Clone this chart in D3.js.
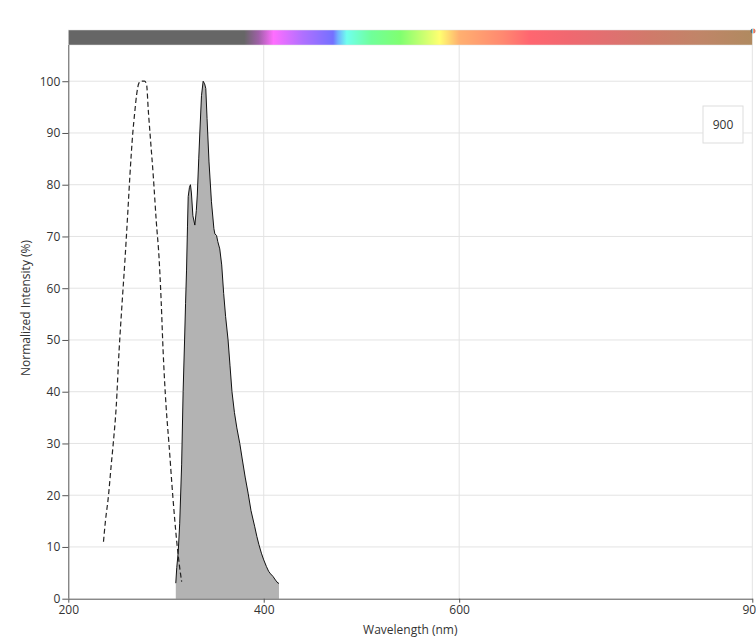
<!DOCTYPE html>
<html>
<head>
<meta charset="utf-8">
<script src="https://cdn.jsdelivr.net/npm/d3@7"></script>
<style>
  body { margin: 0; background: #fff; }
  text { font-family: "Open Sans", sans-serif; fill: #333; }
</style>
</head>
<body>
<div id="chart"></div>
<script>
// Chart data
const exWavelengths = [236, 238, 241, 244, 246, 249, 252, 255, 258, 261, 263, 266, 268, 270, 272, 274, 276, 278, 280, 282, 284, 287, 290, 293, 295, 297, 300, 303, 307, 311, 314, 316];
const exValues = [11, 15, 19.7, 26, 30, 37, 48, 57, 65.5, 75, 81.6, 90, 94, 97.5, 99.5, 100, 100, 100, 99.5, 94, 89, 81.6, 73, 65.5, 57.7, 48, 37.4, 30, 19.7, 11, 6, 3.3];

const emWavelengths = [310, 311, 312.5, 314, 316, 317.5, 319, 320, 321, 322, 322.7, 324, 325, 326, 327.5, 329.5, 331, 332, 333.5, 334.6, 336.3, 338, 339.5, 340.7, 342, 344, 346.5, 349, 350, 351.7, 353, 355, 357, 359, 361, 363.5, 365.5, 367.5, 370, 372.5, 375.5, 378, 381, 384, 387, 390.8, 393, 395, 397.6, 400, 402.8, 405, 407, 409.5, 412, 414.6, 415.6];
const emValues = [3, 6, 9, 14.5, 26, 40, 50, 57, 63.5, 72, 77.7, 79.5, 80, 78.4, 74, 72.2, 75, 78, 85, 90, 97.2, 100, 99.5, 98.6, 92.8, 84.4, 76.7, 71.5, 70.5, 70.2, 69, 67.6, 64.5, 59, 54.5, 50, 45, 40, 36, 33, 30, 27, 23.5, 20.4, 17, 13.9, 12, 10.5, 8.8, 7.5, 6.2, 5.3, 4.8, 4.3, 3.6, 3, 3];

const xTicks = [200, 400, 600, 900];
const yTicks = [0, 10, 20, 30, 40, 50, 60, 70, 80, 90, 100];
const legendLabels = ["900"];

// Spectrum color bar stops
const barWavelengths = [200, 380, 395, 410, 440, 471, 476, 485, 510, 540, 580, 600, 645, 672, 713, 754, 795, 846, 900];
const barColors = ["#666666", "#666666", "#a060a8", "#ff6eff", "#b070ff", "#7470ff", "#70b0ff", "#70ffee", "#70ff9a", "#80ff70", "#ffff70", "#ffb070", "#ff8870", "#ff6670", "#f06870", "#e07070", "#d07a6a", "#c08568", "#b08a60"];

const width = 756;
const height = 637;
const margin = { top: 45, right: 3.7, bottom: 38.3, left: 68.3 };

const svg = d3.select("#chart")
    .append("svg")
    .attr("width", width)
    .attr("height", height);

const x = d3.scaleLinear()
    .domain([200, 900])
    .range([margin.left, width - margin.right]);

const y = d3.scaleLinear()
    .domain([0, 107])
    .range([height - margin.bottom, margin.top]);

// Gradient for the color bar
const defs = svg.append("defs");
const grad = defs.append("linearGradient")
    .attr("id", "spectrum")
    .attr("x1", "0%").attr("x2", "100%");
grad.selectAll("stop")
    .data(barWavelengths)
    .join("stop")
    .attr("offset", (d) => ((d - 200) / 700 * 100) + "%")
    .attr("stop-color", (d, i) => barColors[i]);

svg.append("rect")
    .attr("x", x(200))
    .attr("y", 30)
    .attr("width", x(900) - x(200))
    .attr("height", 15)
    .attr("fill", "url(#spectrum)")
    .attr("stroke", "#e0e0e0")
    .attr("stroke-width", 0.5);

// Grid lines
svg.append("g")
    .selectAll("line")
    .data(yTicks.slice(1))
    .join("line")
    .attr("x1", x(200)).attr("x2", x(900))
    .attr("y1", (d) => y(d)).attr("y2", (d) => y(d))
    .attr("stroke", "#e3e3e3");

svg.append("g")
    .selectAll("line")
    .data(xTicks.slice(1))
    .join("line")
    .attr("x1", (d) => x(d)).attr("x2", (d) => x(d))
    .attr("y1", y(0)).attr("y2", margin.top)
    .attr("stroke", "#e3e3e3");

// Emission: filled area + line
const emData = emWavelengths.map((w, i) => [w, emValues[i]]);
svg.append("path")
    .datum(emData)
    .attr("fill", "#b3b3b3")
    .attr("d", d3.area().x((d) => x(d[0])).y0(y(0)).y1((d) => y(d[1])));
svg.append("path")
    .datum(emData)
    .attr("fill", "none")
    .attr("stroke", "#111")
    .attr("stroke-width", 1)
    .attr("d", d3.line().x((d) => x(d[0])).y((d) => y(d[1])));

// Excitation: dashed line
const exData = exWavelengths.map((w, i) => [w, exValues[i]]);
svg.append("path")
    .datum(exData)
    .attr("fill", "none")
    .attr("stroke", "#222")
    .attr("stroke-width", 1.2)
    .attr("stroke-dasharray", "5,3")
    .attr("d", d3.line().x((d) => x(d[0])).y((d) => y(d[1])).curve(d3.curveMonotoneX));

// Axes
const xAxis = svg.append("g")
    .attr("transform", `translate(0, ${y(0)})`)
    .call(d3.axisBottom(x).tickValues(xTicks).tickSize(4).tickPadding(3).tickSizeOuter(0));
const yAxis = svg.append("g")
    .attr("transform", `translate(${x(200)}, 0)`)
    .call(d3.axisLeft(y).tickValues(yTicks).tickSize(6).tickPadding(2).tickSizeOuter(0));

[xAxis, yAxis].forEach((g) => {
    g.selectAll("text").style("font-size", "12px").style("font-family", "Open Sans, sans-serif").attr("fill", "#333");
    g.selectAll("line").attr("stroke", "#555");
});
xAxis.select(".domain").attr("stroke", "#555");
yAxis.select(".domain").attr("stroke", "#555").attr("d", `M0.5,${y(0)}V${margin.top}`);

// Axis titles
svg.append("text")
    .attr("x", (x(200) + x(900)) / 2)
    .attr("y", 634)
    .attr("text-anchor", "middle")
    .style("font-size", "12px")
    .text("Wavelength (nm)");

svg.append("text")
    .attr("transform", "rotate(-90)")
    .attr("x", -308)
    .attr("y", 30)
    .attr("text-anchor", "middle")
    .style("font-size", "12px")
    .text("Normalized Intensity (%)");

// Legend box
const legend = svg.append("g").attr("transform", "translate(703, 106)");
legend.append("rect")
    .attr("width", 40).attr("height", 37)
    .attr("fill", "#fff")
    .attr("stroke", "#ddd");
legend.append("text")
    .attr("x", 20).attr("y", 23)
    .attr("text-anchor", "middle")
    .style("font-size", "12px")
    .text(legendLabels[0]);

// Small icon at the top right corner
svg.append("circle")
    .attr("cx", 753).attr("cy", 31).attr("r", 2.5)
    .attr("fill", "url(#spectrum)");
</script>
</body>
</html>
